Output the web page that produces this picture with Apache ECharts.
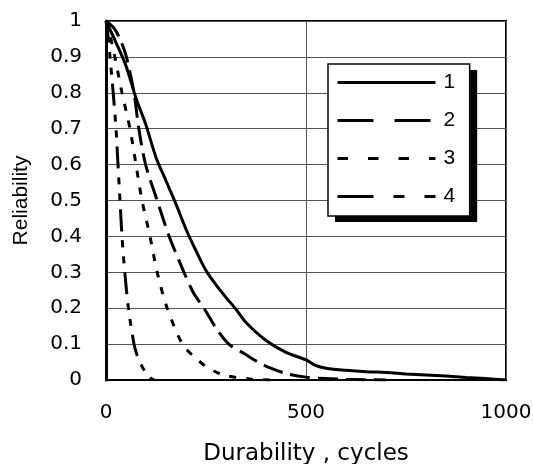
<!DOCTYPE html>
<html>
<head>
<meta charset="utf-8">
<script src="https://cdn.jsdelivr.net/npm/echarts@6/dist/echarts.min.js"></script>
<style>html,body{margin:0;padding:0;background:#fff}#c{width:533px;height:464px}</style>
</head>
<body>
<div id="c"></div>
<script>
var seriesNames = ['1', '2', '3', '4'];
var xTitle = 'Durability , cycles';
var yTitle = 'Reliability';

var durability1 = [0, 25, 50, 75, 100, 125, 150, 175, 200, 225, 250, 275, 300, 325, 350, 400, 450, 500, 525, 550, 600, 650, 700, 750, 800, 850, 900, 950, 1000];
var reliability1 = [1, 0.94, 0.875, 0.785, 0.71, 0.62, 0.555, 0.49, 0.42, 0.36, 0.305, 0.265, 0.23, 0.197, 0.16, 0.11, 0.077, 0.056, 0.04, 0.033, 0.027, 0.023, 0.021, 0.017, 0.014, 0.011, 0.007, 0.004, 0];

var durability2 = [0, 20, 35, 51, 70, 82, 99, 128, 158, 195, 220, 245, 275, 307, 345, 380, 412, 450, 500, 550, 600, 650, 700];
var reliability2 = [1, 0.98, 0.95, 0.9, 0.8, 0.7, 0.6, 0.5, 0.4, 0.3, 0.24, 0.2, 0.145, 0.1, 0.074, 0.05, 0.033, 0.018, 0.008, 0.004, 0.002, 0.001, 0];

var durability3 = [0, 10, 22, 40, 60, 75, 90, 110, 128, 153, 191, 220, 245, 270, 300, 360, 420];
var reliability3 = [1, 0.96, 0.9, 0.8, 0.7, 0.6, 0.5, 0.4, 0.3, 0.2, 0.1, 0.065, 0.042, 0.025, 0.012, 0.003, 0];

var durability4 = [0, 5, 10, 18, 25, 30, 35, 40, 47, 56, 70, 78, 90, 100, 110, 120];
var reliability4 = [1, 0.96, 0.9, 0.8, 0.7, 0.6, 0.5, 0.4, 0.3, 0.2, 0.1, 0.068, 0.038, 0.02, 0.007, 0];

function pairs(xs, ys) { return xs.map(function (x, i) { return [x, ys[i]]; }); }

var curveDash = ['solid', [20, 8], [7, 10], [22, 9, 7, 9, 7, 9]];
var legendDash = ['solid', [36, 21], [10.5, 20], [36, 20, 11, 20, 11, 20]];
var allX = [durability1, durability2, durability3, durability4];
var allY = [reliability1, reliability2, reliability3, reliability4];

var legendBase = {
  orient: 'vertical', left: 328, top: 64,
  padding: [8, 15, 9, 8],
  itemWidth: 98, itemHeight: 14, itemGap: 17,
  itemStyle: {color: 'transparent', borderWidth: 0, opacity: 0},
  selectedMode: false
};

var chart = echarts.init(document.getElementById('c'), null, {renderer: 'canvas'});
chart.setOption({
  animation: false,
  backgroundColor: '#fff',
  grid: {left: 106, right: 27, top: 21, bottom: 84, containLabel: false, outerBoundsMode: 'none',
         show: true, borderColor: '#000', borderWidth: 2, backgroundColor: 'transparent'},
  legend: [
    Object.assign({}, legendBase, {
      backgroundColor: '#fff', borderWidth: 0,
      shadowColor: '#000', shadowBlur: 0, shadowOffsetX: 7, shadowOffsetY: 6,
      textStyle: {fontFamily: 'Liberation Sans, Arial', fontSize: 21, color: '#000', padding: [0, 0, 0, 3]},
      data: seriesNames.map(function (n, i) { return {name: n, lineStyle: {type: legendDash[i], width: 3, color: '#000'}}; })
    }),
    Object.assign({}, legendBase, {
      backgroundColor: 'transparent', borderColor: '#000', borderWidth: 1.5,
      textStyle: {fontFamily: 'Liberation Sans, Arial', fontSize: 21, color: 'transparent', padding: [0, 0, 0, 3]},
      data: seriesNames.map(function (n) { return {name: n, lineStyle: {opacity: 0}}; })
    })
  ],
  xAxis: {
    type: 'value', min: 0, max: 1000, interval: 500,
    name: xTitle, nameLocation: 'middle', nameGap: 63,
    nameTextStyle: {fontFamily: 'DejaVu Sans', fontSize: 23, color: '#000'},
    axisLine: {show: true, lineStyle: {color: '#000', width: 2}},
    axisTick: {show: false},
    axisLabel: {fontFamily: 'DejaVu Sans', fontSize: 20, color: '#000', margin: 23, formatter: function (v) { return String(v); }},
    splitLine: {show: true, lineStyle: {color: '#555', width: 1}}
  },
  yAxis: {
    type: 'value', min: 0, max: 1, interval: 0.1,
    name: yTitle, nameLocation: 'middle', nameGap: 74, nameRotate: 90,
    nameTextStyle: {fontFamily: 'Liberation Sans, Arial', fontSize: 21, color: '#000'},
    axisLine: {show: true, lineStyle: {color: '#000', width: 3}},
    axisTick: {show: false},
    axisLabel: {fontFamily: 'DejaVu Sans', fontSize: 20, color: '#000', margin: 24},
    splitLine: {show: true, lineStyle: {color: '#555', width: 1}}
  },
  series: seriesNames.map(function (n, i) {
    return {
      name: n, type: 'line', symbol: 'none', smooth: 0.3,
      data: pairs(allX[i], allY[i]),
      lineStyle: {color: '#000', width: 3, type: curveDash[i]},
      itemStyle: {color: '#000'},
      z: 3
    };
  })
});
</script>
</body>
</html>
